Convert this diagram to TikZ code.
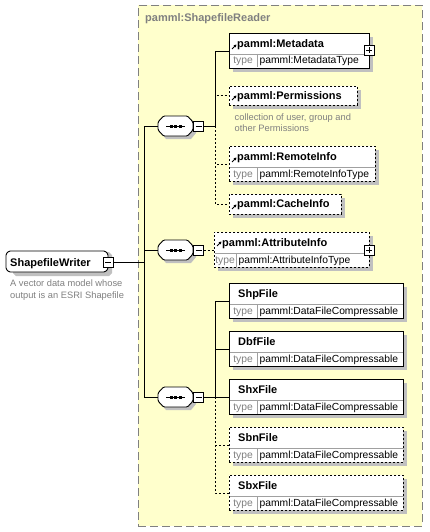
\documentclass[tikz,border=0pt]{standalone}
\usepackage{fontspec}
\setmainfont{Liberation Sans}
\usetikzlibrary{arrows.meta,shadows}

\definecolor{panel}{HTML}{FFFFCC}
\definecolor{panelrule}{HTML}{808080}
\definecolor{shadowgray}{HTML}{C0C0C0}
\definecolor{note}{HTML}{808080}
\definecolor{cellgray}{HTML}{A0A0A0}

\newcommand\xsdname{\fontsize{11}{13}\selectfont\bfseries}
\newcommand\xsdtype{\fontsize{10.3}{12}\selectfont}
\newcommand\xsdnote{\fontsize{9.3}{11}\selectfont}

\tikzset{
  x=1pt, y=-1pt,
  boxshadow/.style={drop shadow={shadow xshift=4pt, shadow yshift=-4pt, fill=shadowgray, opacity=1}},
  panelbox/.style={draw=panelrule, fill=panel, line width=0.9pt, dash pattern=on 8pt off 4pt,
    minimum width=284pt, minimum height=521pt, anchor=north west, inner sep=0pt},
  paneltitle/.style={font=\xsdname, text=note, anchor=base west, inner sep=0pt},
  elembox/.style={draw=black, fill=white, line width=0.9pt, inner sep=0pt, anchor=north west, boxshadow},
  optional/.style={dash pattern=on 2pt off 2pt},
  cellrule/.style={draw=cellgray, line width=0.7pt},
  elemname/.style={font=\xsdname, anchor=base west, inner sep=0pt},
  typekey/.style={font=\xsdtype, text=note, anchor=base, inner sep=0pt},
  typeval/.style={font=\xsdtype, anchor=base west, inner sep=0pt},
  notetext/.style={font=\xsdnote, text=note, anchor=base west, inner sep=0pt},
  link/.style={draw=black, line width=0.9pt},
  refarrow/.style={draw=black, line width=1pt, -{Triangle[length=2.6pt,width=2.8pt]}},
  outline/.style={draw=black, fill=white, line width=0.9pt, rounded corners=1.2pt},
  anchorbox/.style={inner sep=0pt, draw=none},
  minusbox/.style={draw=black, fill=white, line width=0.8pt, minimum size=10pt, inner sep=0pt,
    path picture={
      \draw[line width=0.8pt] ([xshift=2pt]path picture bounding box.west) -- ([xshift=-2pt]path picture bounding box.east);
    }},
  plusbox/.style={minusbox,
    path picture={
      \draw[line width=0.8pt] ([xshift=2pt]path picture bounding box.west) -- ([xshift=-2pt]path picture bounding box.east);
      \draw[line width=0.8pt] ([yshift=2pt]path picture bounding box.south) -- ([yshift=-2pt]path picture bounding box.north);
    }},
}

% element with a type row
% #1 name, #2 left, #3 top, #4 width, #5 border style, #6 element name, #7 type name, #8 x of the cell rule
\newcommand\typedelem[8]{%
  \node[elembox,#5,minimum width=#4pt,minimum height=35pt] (#1) at (#2,#3) {};
  \draw[cellrule] (#2+0.5,#3+21) -- (#2+#4-0.5,#3+21);
  \draw[cellrule] (#8,#3+21) -- (#8,#3+34.5);
  \node[elemname] (#1-name) at (#2+8,#3+14.5) {#6};
  \node[typekey] (#1-key) at ({(#2+#8)/2},#3+31) {type};
  \node[typeval] (#1-type) at (#8+2.5,#3+31) {#7};
  \coordinate (#1-pin) at (#2,#3+18);
}
% element without a type row
% #1 name, #2 left, #3 top, #4 width, #5 height, #6 border style, #7 element name
\newcommand\plainelem[7]{%
  \node[elembox,#6,minimum width=#4pt,minimum height=#5pt] (#1) at (#2,#3) {};
  \node[elemname] (#1-name) at (#2+8,#3+13.5) {#7};
  \coordinate (#1-pin) at (#2,#3+#5/2);
}
% reference marker in the corner of a global element
\newcommand\refmark[2]{\draw[refarrow] (#1+3,#2+16) -- (#1+7.5,#2+11.5);}

% sequence compositor: #1 name, #2 centre y
\newcommand\seqsym[2]{%
  \fill[shadowgray] (161,#2-1) -- (166,#2-7) -- (191,#2-7) -- (196,#2-1) -- (196,#2+7)
     -- (191,#2+13) -- (166,#2+13) -- (161,#2+7) -- cycle;
  \path[outline] (158,#2-4) -- (163.5,#2-10) -- (187.5,#2-10) -- (193,#2-4) -- (193,#2+4)
     -- (187.5,#2+10) -- (163.5,#2+10) -- (158,#2+4) -- cycle;
  \draw[line width=0.9pt] (166,#2) -- (185,#2);
  \foreach \dx in {171,175.5,180}
    \fill (\dx-1.5,#2-1.5) rectangle (\dx+1.5,#2+1.5);
  \node[anchorbox, minimum width=35pt, minimum height=20pt] (#1) at (175.5,#2) {};
  \node[minusbox] (#1-m) at (198.5,#2) {};
}

\begin{document}
\begin{tikzpicture}
\useasboundingbox[fill=white] (0,0) rectangle (430,532);

% complex type panel
\node[panelbox] (reader) at (138,5) {};
\node[paneltitle] (reader-title) at (145,22) {pamml:ShapefileReader};

% root element
\fill[shadowgray] (13,255) -- (16,252) -- (109,252) -- (112,255) -- (112,273) -- (109,276) -- (16,276) -- (13,273) -- cycle;
\path[outline] (6,254) -- (9,251) -- (105,251) -- (108,254) -- (108,269) -- (105,272) -- (9,272) -- (6,269) -- cycle;
\node[anchorbox, minimum width=102pt, minimum height=21pt] (sw) at (57,261.5) {};
\node[elemname] (sw-name) at (10,266) {ShapefileWriter};
\node[minusbox] (sw-m) at (108,262) {};
\node[notetext] (sw-note1) at (10,286.5) {A vector data model whose};
\node[notetext] (sw-note2) at (10,298.5) {output is an ESRI Shapefile};

% sequence compositors
\seqsym{seq1}{126}
\seqsym{seq2}{250}
\seqsym{seq3}{397}
\coordinate (trunk) at (144,262);
\coordinate (seq1-bus) at (215,126);
\coordinate (seq3-bus) at (215,397);

% first sequence
\typedelem{meta}{229}{33}{140}{}{pamml:Metadata}{pamml:MetadataType}{257}
\refmark{229}{33}
\node[plusbox] (meta-p) at (369,50) {};
\plainelem{perm}{229}{86}{128}{19}{optional}{pamml:Permissions}
\refmark{229}{84}
\node[notetext] (perm-note1) at (234.5,120.5) {collection of user, group and};
\node[notetext] (perm-note2) at (234.5,131.5) {other Permissions};
\typedelem{remote}{229}{146}{146}{optional}{pamml:RemoteInfo}{pamml:RemoteInfoType}{257}
\refmark{229}{146}
\plainelem{cache}{229}{194}{112}{20}{optional}{pamml:CacheInfo}
\refmark{229}{193}

% second sequence
\typedelem{attr}{214}{232}{155}{optional}{pamml:AttributeInfo}{pamml:AttributeInfoType}{236}
\refmark{214}{230}
\node[plusbox] (attr-p) at (369,250) {};

% third sequence
\typedelem{shp}{229}{283}{174}{}{\hspace*{1pt}ShpFile}{pamml:DataFileCompressable}{257}
\typedelem{dbf}{229}{331}{174}{}{\hspace*{1pt}DbfFile}{pamml:DataFileCompressable}{257}
\typedelem{shx}{229}{379}{174}{}{\hspace*{1pt}ShxFile}{pamml:DataFileCompressable}{257}
\typedelem{sbn}{229}{427}{174}{optional}{\hspace*{1pt}SbnFile}{pamml:DataFileCompressable}{257}
\typedelem{sbx}{229}{475}{174}{optional}{\hspace*{1pt}SbxFile}{pamml:DataFileCompressable}{257}

% connectors from the root
\draw[link] (sw-m.east) -- (trunk);
\draw[link] (trunk) |- (seq1.west);
\draw[link] (trunk) |- (seq2.west);
\draw[link] (trunk) |- (seq3.west);
\draw[link] (seq1.east) -- (seq1-m.west);
\draw[link] (seq2.east) -- (seq2-m.west);
\draw[link] (seq3.east) -- (seq3-m.west);

% first sequence children
\draw[link] (seq1-m.east) -- (seq1-bus);
\draw[link] (seq1-bus) |- (meta-pin);
\draw[link,optional] (seq1-bus) |- (perm-pin);
\draw[link,optional] (seq1-bus) |- (remote-pin);
\draw[link,optional] (seq1-bus) |- (cache-pin);

% second sequence child
\draw[link,optional] (seq2-m.east) -- (attr-pin);

% third sequence children
\draw[link] (seq3-m.east) -- (seq3-bus);
\draw[link] (seq3-bus) |- (shp-pin);
\draw[link] (seq3-bus) |- (dbf-pin);
\draw[link] (seq3-bus) -- (shx-pin);
\draw[link,optional] (seq3-bus) |- (sbn-pin);
\draw[link,optional] (seq3-bus) |- (sbx-pin);
\end{tikzpicture}
\end{document}
